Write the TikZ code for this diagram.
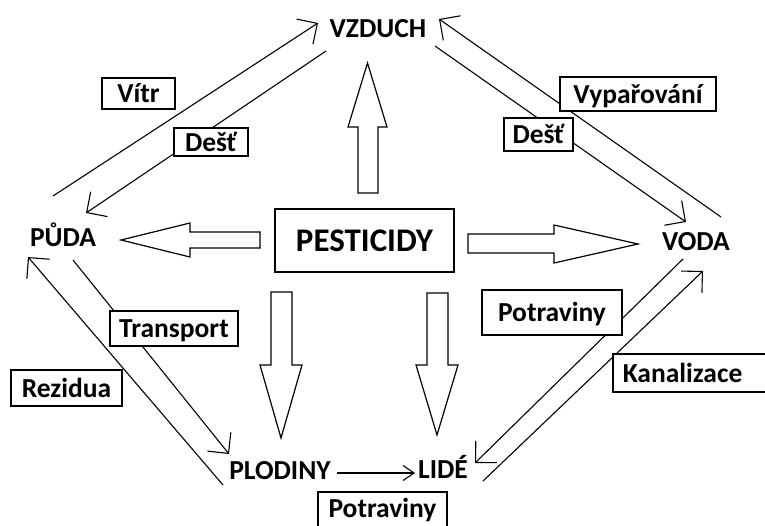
\documentclass[tikz,border=0pt]{standalone}
\usepackage{fontspec}
\setmainfont{Carlito}
\usetikzlibrary{arrows.meta}

\tikzset{
	place/.style={font=\fontsize{27.5}{30}\selectfont\bfseries, inner sep=0pt, anchor=base},
	tag/.style={draw, fill=white, line width=1.5pt, font=\fontsize{27.5}{30}\selectfont\bfseries,
		text height=18pt, text depth=0pt, inner sep=0pt},
	flow/.style={line width=1.1pt, -{Straight Barb[length=15pt,width=30pt]}},
	fat/.style={draw, line width=1.2pt, line join=miter}
}

\begin{document}
\begin{tikzpicture}[x=1pt,y=-1pt]
\useasboundingbox (0,0) rectangle (765,525);

% compartments
\node[place] (vzduch) at (378,37) {VZDUCH};
\node[place] (puda) at (63,246) {PŮDA};
\node[place] (voda) at (696,250) {VODA};
\node[place] (plodiny) at (280,479) {PLODINY};
\node[place] (lide) at (443,478) {LIDÉ};
\node[draw, line width=1.5pt, minimum width=179pt, minimum height=63pt, inner sep=0pt,
	font=\fontsize{33}{36}\selectfont\bfseries] (pest) at (364.5,240.5) {PESTICIDY};

% big arrows out of the box
\draw[fat] (121,240) -- (190,223) -- (190,232) -- (260,232) -- (260,248) -- (190,248) -- (190,257) -- cycle;
\draw[fat] (367.5,63) -- (387,127) -- (378,127) -- (378,193) -- (358,193) -- (358,127) -- (348,127) -- cycle;
\draw[fat] (638,244) -- (554,263) -- (554,253) -- (468,253) -- (468,234) -- (554,234) -- (554,225) -- cycle;
\draw[fat] (281,438) -- (260,365) -- (271,365) -- (271,292) -- (292,292) -- (292,365) -- (302,365) -- cycle;
\draw[fat] (437,435) -- (416,365) -- (427,365) -- (427,293) -- (448,293) -- (448,365) -- (458,365) -- cycle;

% ends of the thin lines
\coordinate (wind0) at (53,196);   \coordinate (wind1) at (318,23);
\coordinate (rainA0) at (326,51);  \coordinate (rainA1) at (86,213);
\coordinate (evap0) at (721,217);  \coordinate (evap1) at (439,19);
\coordinate (rainB0) at (435,46);  \coordinate (rainB1) at (686,222);
\coordinate (resid0) at (223,485); \coordinate (resid1) at (28,257);
\coordinate (trans0) at (73,260);  \coordinate (trans1) at (229,454);
\coordinate (eat0) at (337,473);   \coordinate (eat1) at (415,473);
\coordinate (food0) at (683,259);  \coordinate (food1) at (475,463);
\coordinate (sewer0) at (483,481); \coordinate (sewer1) at (703,271);

\draw[flow] (wind0) -- (wind1);
\draw[flow] (rainA0) -- (rainA1);
\draw[flow] (evap0) -- (evap1);
\draw[flow] (rainB0) -- (rainB1);
\draw[flow] (resid0) -- (resid1);
\draw[flow] (trans0) -- (trans1);
\draw[line width=1.1pt, -{Straight Barb[length=11pt,width=15pt]}] (eat0) -- (eat1);
\draw[flow] (food0) -- (food1);
\draw[flow] (sewer0) -- (sewer1);

% labels on the lines
\node[tag, minimum width=73pt, minimum height=31pt] (vitr) at (138.5,93.5) {Vítr};
\node[tag, minimum width=74pt, minimum height=28pt] (destA) at (211,142) {Dešť};
\node[tag, minimum width=156pt, minimum height=34pt] (vypar) at (638,94) {Vypařování};
\node[tag, minimum width=69pt, minimum height=33pt] (destB) at (538.5,134.5) {Dešť};
\node[tag, minimum width=128pt, minimum height=35pt] (transport) at (174,328.5) {Transport};
\node[tag, minimum width=111pt, minimum height=36pt] (rezidua) at (66.5,388) {Rezidua};
\node[tag, minimum width=140pt, minimum height=45pt] (potravA) at (552,312.5) {Potraviny};
\node[tag, minimum width=129pt, minimum height=40pt, text depth=8pt] (potravB) at (382.5,512) {Potraviny};
\node[tag, anchor=west, minimum height=38pt, text width=138pt, align=left, inner xsep=10pt] (kanal) at (612,373) {Kanalizace};
\end{tikzpicture}
\end{document}
